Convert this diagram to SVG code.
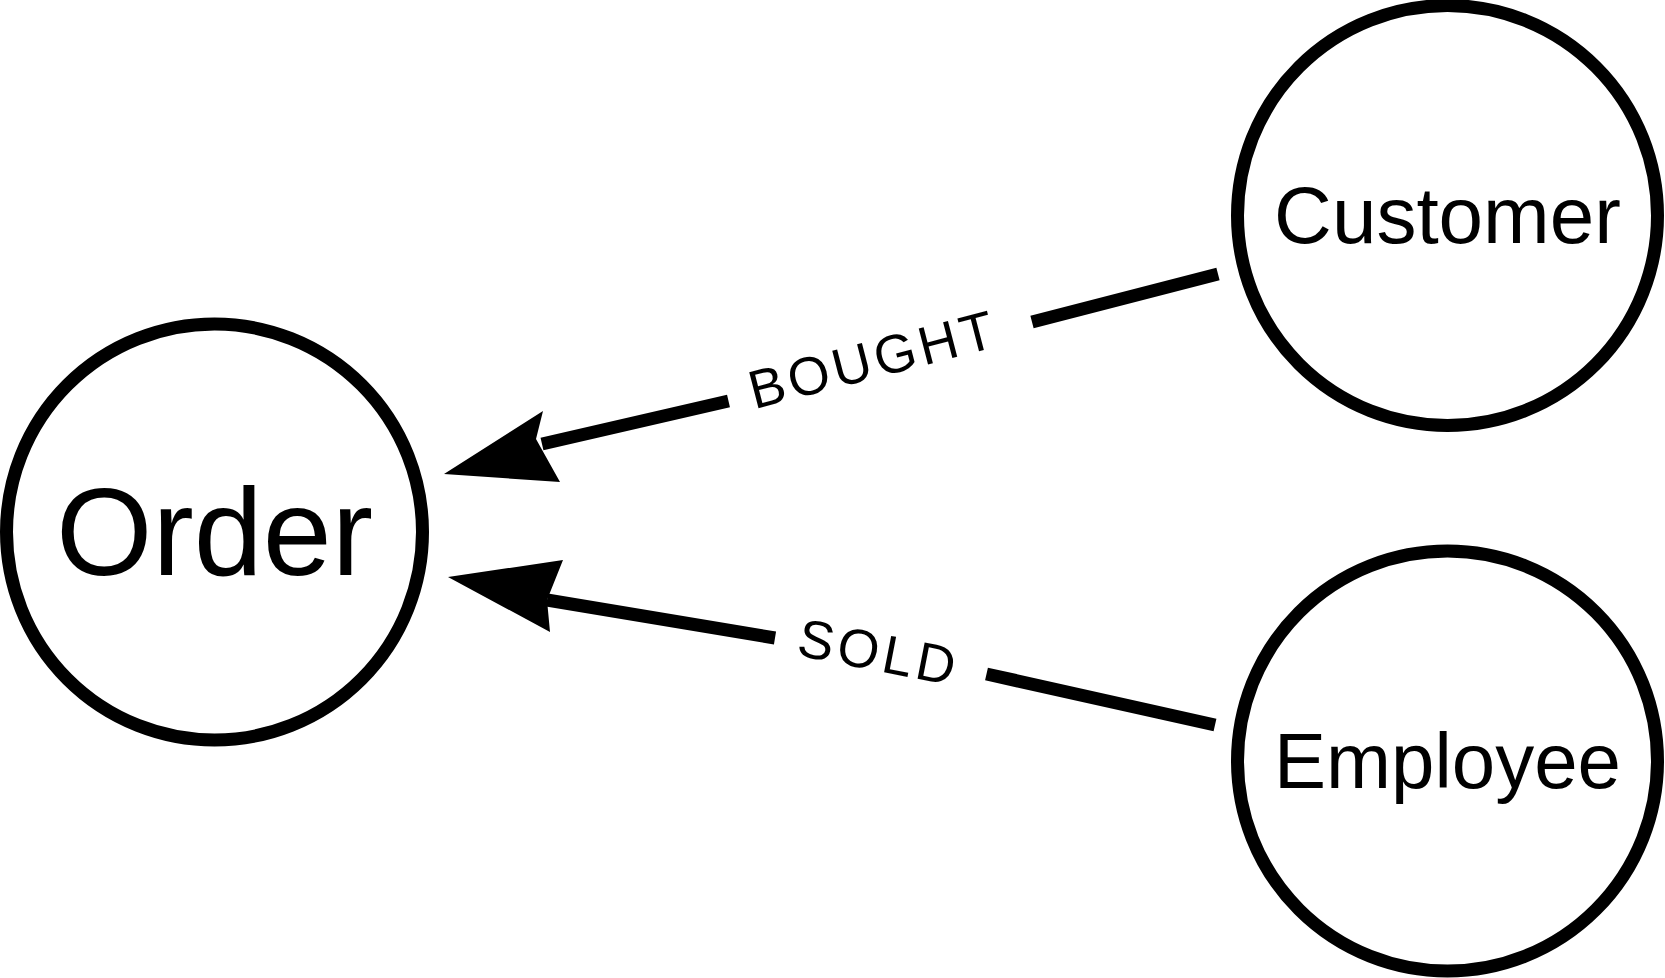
<svg xmlns="http://www.w3.org/2000/svg" width="1665" height="978" viewBox="0 0 1665 978">
<style>
.n{fill:#fff;stroke:#000;stroke-width:13}
.t{font-family:"Liberation Sans",Arial,sans-serif;text-anchor:middle;dominant-baseline:central;fill:#000}
.e{stroke:#000;stroke-width:13;fill:none}
.l{font-family:"Liberation Sans",Arial,sans-serif;font-size:54px;letter-spacing:4px;text-anchor:middle;dominant-baseline:central}
</style>
<rect width="1665" height="978" fill="#fff"/>
<g id="connectors">
<g id="bought">
<path class="e" d="M1218,274L1032,322M728.5,401L542,444"/>
<polygon points="444,474 543,411 536,439 560,482"/>
<text class="l" transform="translate(873,359) rotate(-14.5)">BOUGHT</text>
</g>
<g id="sold">
<path class="e" d="M1215,725L986.5,674M775,638L547,600"/>
<polygon points="448,577 563,560 547,600 550,632"/>
<text class="l" transform="translate(879,652) rotate(11)">SOLD</text>
</g>
</g>
<g id="order"><circle class="n" cx="214.5" cy="532" r="208"/><text class="t" x="214.5" y="532" font-size="124">Order</text></g>
<g id="customer"><circle class="n" cx="1447.5" cy="215.5" r="210"/><text class="t" x="1447.5" y="215.5" font-size="80">Customer</text></g>
<g id="employee"><circle class="n" cx="1447.5" cy="761" r="210"/><text class="t" x="1447.5" y="761" font-size="78">Employee</text></g>
</svg>
